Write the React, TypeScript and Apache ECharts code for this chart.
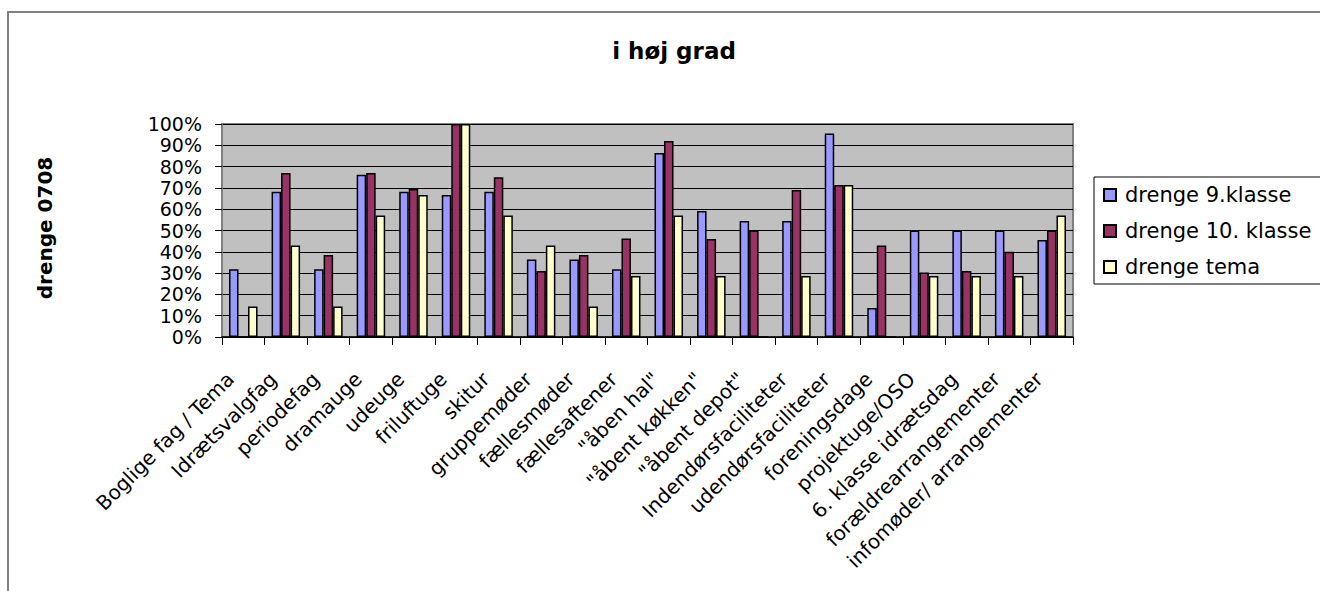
import React, { useEffect, useRef } from "react";
import * as echarts from "echarts";

const categories = [
  "Boglige fag / Tema",
  "Idrætsvalgfag",
  "periodefag",
  "dramauge",
  "udeuge",
  "friluftuge",
  "skitur",
  "gruppemøder",
  "fællesmøder",
  "fællesaftener",
  "\"åben hal\"",
  "\"åbent køkken\"",
  "\"åbent depot\"",
  "Indendørsfaciliteter",
  "udendørsfaciliteter",
  "foreningsdage",
  "projektuge/OSO",
  "6. klasse idrætsdag",
  "forældrearrangementer",
  "infomøder/ arrangementer",
];

const seriesNames = ["drenge 9.klasse", "drenge 10. klasse", "drenge tema"];

const klasse9 = [31.8, 68.2, 31.8, 76.2, 68.2, 66.7, 68.2, 36.4, 36.4, 31.8, 86.4, 59.1, 54.5, 54.5, 95.5, 13.6, 50, 50, 50, 45.5];
const klasse10 = [0, 77, 38.5, 77, 69.5, 100, 75, 31, 38.5, 46.2, 92, 46, 50, 69, 71.4, 43, 30.3, 31, 40, 50];
const tema = [14.3, 42.9, 14.3, 57.1, 66.7, 100, 57.1, 42.9, 14.3, 28.6, 57.1, 28.6, 0, 28.6, 71.4, 0, 28.6, 28.6, 28.6, 57.1];

const colors = ["#9999FF", "#993366", "#FFFFCC"];
const yTicks = [0, 10, 20, 30, 40, 50, 60, 70, 80, 90, 100];

const FONT = "DejaVu Sans";

export default function App() {
  const ref = useRef<HTMLDivElement>(null);

  useEffect(() => {
    if (!ref.current) return;
    const chart = echarts.init(ref.current, undefined, { renderer: "svg" });
    const values = [klasse9, klasse10, tema];
    chart.setOption({
      animation: false,
      backgroundColor: "#ffffff",
      title: {
        text: "i høj grad",
        left: 669,
        top: 34,
        textAlign: "center",
        textStyle: { fontFamily: FONT, fontSize: 23, fontWeight: "bold", color: "#000" },
      },
      legend: {
        orient: "vertical",
        left: 1094,
        top: 177,
        padding: [7, 10, 6, 9],
        itemGap: 14,
        itemWidth: 12,
        itemHeight: 12,
        icon: "rect",
        borderColor: "#000",
        borderWidth: 1,
        backgroundColor: "#fff",
        textStyle: { fontFamily: FONT, fontSize: 21, color: "#000", lineHeight: 22, padding: [0, 0, 0, 4] },
        data: seriesNames,
      },
      grid: {
        left: 222,
        right: 247,
        top: 124,
        bottom: 254,
        show: true,
        backgroundColor: "#C0C0C0",
        borderColor: "#808080",
        borderWidth: 2,
      },
      xAxis: {
        type: "category",
        data: categories,
        boundaryGap: true,
        axisLine: { show: true, lineStyle: { color: "#000", width: 1.5 } },
        axisTick: { show: true, length: 8, alignWithLabel: false, lineStyle: { color: "#000" } },
        axisLabel: {
          interval: 0,
          rotate: 45,
          margin: 26,
          fontFamily: FONT,
          fontSize: 20,
          color: "#000",
          padding: [0, 18, 0, 0],
        },
      },
      yAxis: {
        type: "value",
        min: 0,
        max: 100,
        interval: 10,
        axisLine: { show: true, lineStyle: { color: "#808080", width: 1.5 } },
        axisTick: { show: true, length: 7, lineStyle: { color: "#000" } },
        axisLabel: {
          margin: 20,
          fontFamily: FONT,
          fontSize: 19,
          lineHeight: 19,
          color: "#000",
          formatter: (v: number) => (yTicks.includes(v) ? `${v}%` : ""),
        },
        splitLine: { show: true, lineStyle: { color: "#000", width: 1 } },
      },
      graphic: [
        {
          type: "polyline",
          shape: { points: [[8, 591], [8, 12], [1320, 12]] },
          style: { stroke: "#808080", lineWidth: 2, fill: "none" },
          silent: true,
        },
        {
          type: "text",
          x: 45,
          y: 228,
          rotation: Math.PI / 2,
          style: {
            text: "drenge 0708",
            fontFamily: FONT,
            fontSize: 20,
            fontWeight: "bold",
            fill: "#000",
            align: "center",
            verticalAlign: "middle",
          },
        },
      ],
      series: seriesNames.map((name, i) => ({
        name,
        type: "bar",
        data: values[i],
        barGap: "0%",
        barCategoryGap: "33%",
        itemStyle: { color: colors[i], borderColor: "#000", borderWidth: 1.5 },
      })),
    });
    return () => chart.dispose();
  }, []);

  return (
    <div
      ref={ref}
      style={{ position: "fixed", left: 0, top: 0, width: 1320, height: 591, background: "#fff" }}
    />
  );
}
